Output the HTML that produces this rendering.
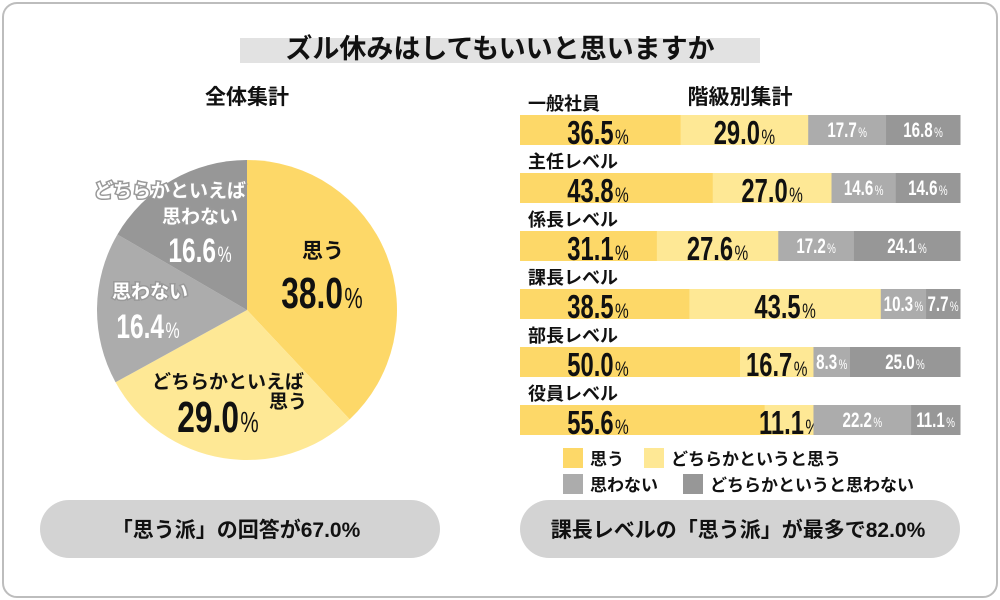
<!DOCTYPE html>
<html><head><meta charset="utf-8"><style>
body{margin:0;background:#fff;font-family:"Liberation Sans","Noto Sans CJK JP",sans-serif}
svg{display:block}
.jp{font-family:"Liberation Sans","Noto Sans CJK JP",sans-serif;font-weight:bold}
.num{font-family:"Liberation Sans Narrow","Liberation Sans","Noto Sans CJK JP",sans-serif;font-weight:bold}
</style></head><body>
<svg id="c" width="1000" height="600" viewBox="0 0 1000 600">
<rect x="3" y="3" width="994" height="594" rx="14" fill="#fff" stroke="#bdbdbd" stroke-width="2"/>
<rect x="240" y="38" width="520" height="25" fill="#e2e2e2"/>
<text x="500" y="58" text-anchor="middle" class="jp" font-size="27" fill="#111">ズル休みはしてもいいと思いますか</text>
<text x="247" y="104" text-anchor="middle" class="jp" font-size="21" fill="#111">全体集計</text>
<text x="740" y="104" text-anchor="middle" class="jp" font-size="21" fill="#111">階級別集計</text>
<g id="pie"></g>
<g id="bars"></g>
<g>
<rect x="563" y="448" width="20" height="20" fill="#fdd868"/>
<text x="590" y="465" class="jp" font-size="17" fill="#111">思う</text>
<rect x="644" y="448" width="20" height="20" fill="#fee895"/>
<text x="671" y="465" class="jp" font-size="17" fill="#111">どちらかというと思う</text>
<rect x="563" y="474" width="20" height="20" fill="#acacac"/>
<text x="590" y="491" class="jp" font-size="17" fill="#111">思わない</text>
<rect x="683" y="474" width="20" height="20" fill="#979797"/>
<text x="710" y="491" class="jp" font-size="17" fill="#111">どちらかというと思わない</text>
</g>
<rect x="40" y="500" width="400" height="58" rx="29" fill="#d3d3d3"/>
<text x="236" y="537" text-anchor="middle" class="jp" font-size="21" fill="#111">「思う派」の回答が67.0%</text>
<rect x="520" y="500" width="440" height="58" rx="29" fill="#d3d3d3"/>
<text x="738" y="537" text-anchor="middle" class="jp" font-size="21" fill="#111">課長レベルの「思う派」が最多で82.0%</text>
</svg>
<script>
const pieValues=[38.0,29.0,16.4,16.6];
const pieCats=["思う","どちらかといえば思う","思わない","どちらかといえば思わない"];
const rowLabels=["一般社員","主任レベル","係長レベル","課長レベル","部長レベル","役員レベル"];
const agree=[36.5,43.8,31.1,38.5,50.0,55.6];
const someAgree=[29.0,27.0,27.6,43.5,16.7,11.1];
const disagree=[17.7,14.6,17.2,10.3,8.3,22.2];
const someDisagree=[16.8,14.6,24.1,7.7,25.0,11.1];
const colors=["#fdd868","#fee895","#acacac","#979797"];
const NS="http://www.w3.org/2000/svg";
function mk(t,a,p){const e=document.createElementNS(NS,t);for(const k in a)e.setAttribute(k,a[k]);p.appendChild(e);return e;}
function pct(p,x,y,val,size,fill,anchor,name){
  const g=mk('g',{transform:`translate(${x},${y}) scale(0.72,1)`},p);
  const t=mk('text',{class:'num','font-size':size,fill:fill,'text-anchor':anchor},g);
  
  
  t.textContent=val.toFixed(1);
  const s=mk('tspan',{'font-size':size*0.65,'font-weight':'normal',dx:2},t);
  s.textContent='%';
  return t;
}
const pie=document.getElementById('pie');
const cx=247,cy=310,r=150;
const tot=pieValues.reduce((a,b)=>a+b,0);
let a0=0;
pieValues.forEach((v,i)=>{
  const a1=a0+v/tot*2*Math.PI;
  const x0=cx+r*Math.sin(a0),y0=cy-r*Math.cos(a0),x1=cx+r*Math.sin(a1),y1=cy-r*Math.cos(a1);
  const p=mk('path',{d:`M${cx},${cy}L${x0},${y0}A${r},${r} 0 ${a1-a0>Math.PI?1:0} 1 ${x1},${y1}Z`,fill:colors[i]},pie);
  
  
  a0=a1;
});
function jt(x,y,s,size,fill,anchor,name,stroke){
  const t=mk('text',{x:x,y:y,class:'jp','font-size':size,fill:fill,'text-anchor':anchor},pie);
  if(stroke){t.setAttribute('stroke',stroke);t.setAttribute('stroke-width','3');t.setAttribute('paint-order','stroke');}
  
  
  t.textContent=s;
}
jt(323,258,"思う",21,"#111","middle","pie-label-agree");
pct(pie,322,308,pieValues[0],44,"#111","middle","pie-value-agree");
jt(228,388,"どちらかといえば",19,"#111","middle","pie-label-somewhat-agree");
jt(288,408,"思う",19,"#111","middle","pie-label-somewhat-agree-2");
pct(pie,218,432,pieValues[1],44,"#111","middle","pie-value-somewhat-agree");
jt(150,298,"思わない",19,"#fff","middle","pie-label-disagree","#999");
pct(pie,148,338,pieValues[2],34,"#fff","middle","pie-value-disagree");
jt(170,197,"どちらかといえば",19,"#fff","middle","pie-label-somewhat-disagree","#999");
jt(200,223,"思わない",19,"#fff","middle","pie-label-somewhat-disagree-2","#999");
pct(pie,200,262,pieValues[3],34,"#fff","middle","pie-value-somewhat-disagree");
const bars=document.getElementById('bars');
const bx=520,bw=440,bh=30;
const series=[agree,someAgree,disagree,someDisagree];
rowLabels.forEach((lab,i)=>{
  const y=115+i*58;
  const t=mk('text',{x:528,y:y-5,class:'jp','font-size':18,fill:'#111'},bars);
  
  
  t.textContent=lab;
  const sum=series.reduce((s,a)=>s+a[i],0);
  let x=bx;
  series.forEach((arr,j)=>{
    const w=arr[i]/sum*bw;
    const rc=mk('rect',{x:x,y:y,width:w+0.5,height:bh,fill:colors[j]},bars);
    
    
    const big=j<2;
    const lx=j==0?598:x+w/2;
    pct(bars,lx,y+(big?29:22),arr[i],big?33:21,big?'#111':'#fff','middle','bar-value-'+i+'-'+j);
    x+=w;
  });
});
</script>
</body></html>
